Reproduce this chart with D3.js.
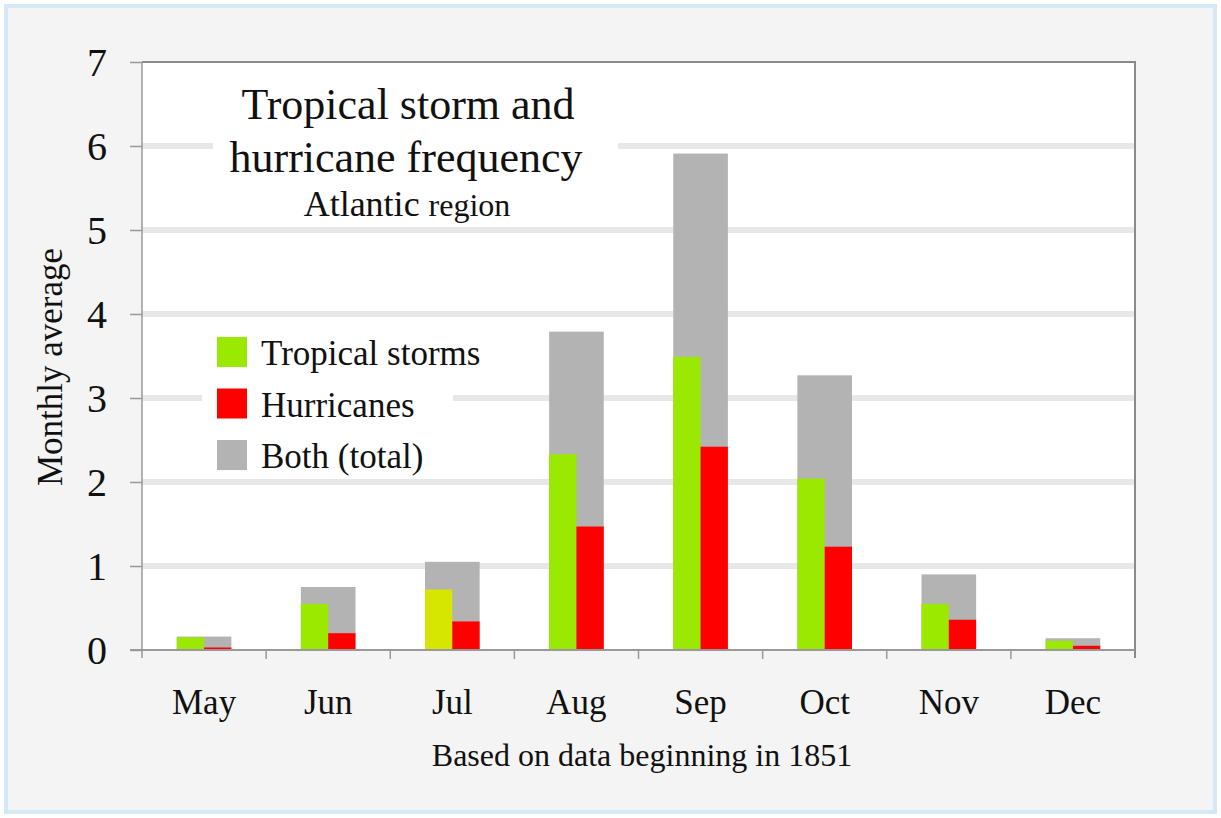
<!DOCTYPE html>
<html>
<head>
<meta charset="utf-8">
<script src="https://cdn.jsdelivr.net/npm/d3@7"></script>
<style>
  body { margin: 0; background: #fff; }
  svg text { font-family: "Liberation Serif", "Times New Roman", serif; fill: #111; }
</style>
</head>
<body>
<svg id="chart" width="1221" height="818"></svg>
<script>
// monthly averages
var months = ["May", "Jun", "Jul", "Aug", "Sep", "Oct", "Nov", "Dec"];
var tropicalStorms = [0.15, 0.55, 0.72, 2.33, 3.49, 2.04, 0.55, 0.11];
var hurricanes = [0.03, 0.20, 0.34, 1.47, 2.42, 1.23, 0.36, 0.05];
var totals = [0.16, 0.75, 1.05, 3.79, 5.91, 3.27, 0.90, 0.14];
var yTicks = [0, 1, 2, 3, 4, 5, 6, 7];

var legendItems = [
  {label: "Tropical storms", color: "#9be800"},
  {label: "Hurricanes", color: "#ff0000"},
  {label: "Both (total)", color: "#b3b3b3"}
];

var margin = {top: 62, right: 86, bottom: 168, left: 142};
var W = 1221, H = 818;

var svg = d3.select("#chart");

// frame
svg.append("rect")
  .attr("x", 6).attr("y", 6)
  .attr("width", W - 12).attr("height", H - 12)
  .attr("fill", "#f4f4f4")
  .attr("stroke", "#d4e8f6")
  .attr("stroke-width", 4);

var x = d3.scaleBand()
  .domain(months)
  .range([margin.left, W - margin.right]);

var y = d3.scaleLinear()
  .domain([0, 7])
  .range([H - margin.bottom, margin.top]);

// plot background
svg.append("rect")
  .attr("x", x.range()[0]).attr("y", y(7))
  .attr("width", x.range()[1] - x.range()[0])
  .attr("height", y(0) - y(7))
  .attr("fill", "#fff");

// grid lines
svg.append("g")
  .selectAll("line")
  .data(yTicks.filter(d => d > 0 && d < 7))
  .join("line")
    .attr("x1", x.range()[0]).attr("x2", x.range()[1])
    .attr("y1", d => y(d)).attr("y2", d => y(d))
    .attr("stroke", "#e7e7e7")
    .attr("stroke-width", 6);

// white boxes behind title and legend (they cut the grid lines)
svg.append("rect")
  .attr("x", 213).attr("y", 78).attr("width", 405).attr("height", 142)
  .attr("fill", "#fff");
svg.append("rect")
  .attr("x", 202).attr("y", 330).attr("width", 251).attr("height", 144)
  .attr("fill", "#fff");

// bars
var barW = x.bandwidth() * 0.44;
var bars = svg.append("g");
months.forEach(function(m, i) {
  var x0 = x(m) + (x.bandwidth() - barW) / 2;
  bars.append("rect")
    .attr("x", x0).attr("y", y(totals[i]))
    .attr("width", barW).attr("height", y(0) - y(totals[i]))
    .attr("fill", "#b3b3b3");
  bars.append("rect")
    .attr("x", x0).attr("y", y(tropicalStorms[i]))
    .attr("width", barW / 2).attr("height", y(0) - y(tropicalStorms[i]))
    .attr("fill", m === "Jul" ? "#d6e600" : "#9be800");
  bars.append("rect")
    .attr("x", x0 + barW / 2).attr("y", y(hurricanes[i]))
    .attr("width", barW / 2).attr("height", y(0) - y(hurricanes[i]))
    .attr("fill", "#ff0000");
});

// top and right border
svg.append("path")
  .attr("d", "M" + x.range()[0] + "," + y(7) + "H" + x.range()[1] + "V" + (y(0) + 8))
  .attr("fill", "none")
  .attr("stroke", "#8a8a8a")
  .attr("stroke-width", 2);

// y axis
var yAxis = svg.append("g")
  .attr("transform", "translate(" + margin.left + ",0)")
  .call(d3.axisLeft(y).tickValues(yTicks).tickFormat(d3.format("d")).tickSize(12).tickPadding(23));
yAxis.selectAll("text")
  .attr("font-size", 40)
  .attr("font-family", "Liberation Serif")
  .attr("fill", "#111")
  .attr("dy", "0.34em");
yAxis.selectAll("line, path").attr("stroke", "#999").attr("stroke-width", 1.5);
yAxis.select(".domain").attr("d", "M0," + y(7) + "V" + (y(0) + 8));

// x axis
var xAxis = svg.append("g").attr("transform", "translate(0," + y(0) + ")");
xAxis.append("line")
  .attr("x1", x.range()[0] - 12).attr("x2", x.range()[1])
  .attr("stroke", "#999").attr("stroke-width", 2);
xAxis.selectAll(".tick")
  .data(months.slice(1))
  .join("line")
    .attr("class", "tick")
    .attr("x1", d => x(d)).attr("x2", d => x(d))
    .attr("y1", 0).attr("y2", 9)
    .attr("stroke", "#999").attr("stroke-width", 1.5);
xAxis.selectAll(".lbl")
  .data(months)
  .join("text")
    .attr("class", "lbl")
    .attr("x", d => x(d) + x.bandwidth() / 2)
    .attr("y", 64)
    .attr("text-anchor", "middle")
    .attr("font-size", 35)
    .text(d => d);

svg.append("text")
  .attr("x", 642).attr("y", 766)
  .attr("text-anchor", "middle")
  .attr("font-size", 32)
  .text("Based on data beginning in 1851");

svg.append("text")
  .attr("transform", "translate(62,367) rotate(-90)")
  .attr("text-anchor", "middle")
  .attr("font-size", 35)
  .text("Monthly average");

// title
var title = svg.append("text").attr("text-anchor", "middle");
title.append("tspan").attr("x", 408).attr("y", 119).attr("font-size", 44).text("Tropical storm and");
title.append("tspan").attr("x", 406).attr("y", 172).attr("font-size", 44).text("hurricane frequency");
var sub = svg.append("text").attr("x", 407).attr("y", 216).attr("text-anchor", "middle");
sub.append("tspan").attr("font-size", 36).text("Atlantic ");
sub.append("tspan").attr("font-size", 32).text("region");

// legend
var legend = svg.append("g").attr("transform", "translate(217,337)");
var item = legend.selectAll("g")
  .data(legendItems)
  .join("g")
    .attr("transform", (d, i) => "translate(0," + i * 51.5 + ")");
item.append("rect")
  .attr("width", 30).attr("height", 30)
  .attr("fill", d => d.color);
item.append("text")
  .attr("x", 44).attr("y", 28)
  .attr("font-size", 35)
  .text(d => d.label);
</script>
</body>
</html>
